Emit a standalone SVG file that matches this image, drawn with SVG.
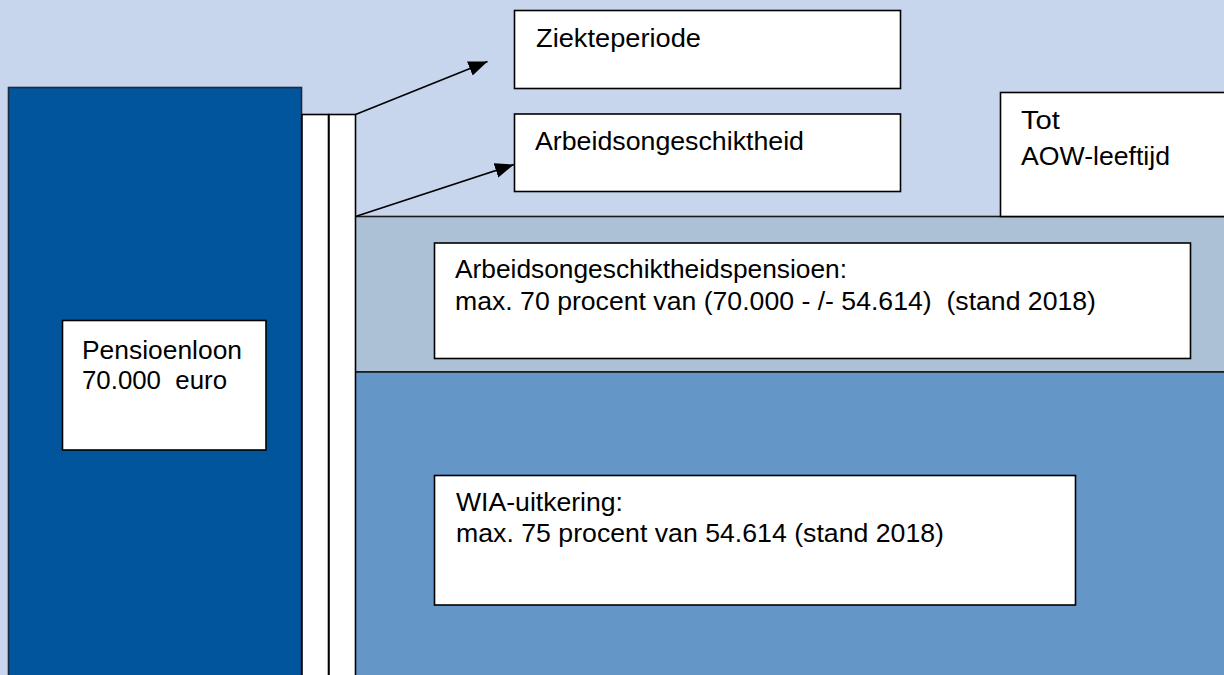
<svg xmlns="http://www.w3.org/2000/svg" width="1224" height="675" viewBox="0 0 1224 675">
<style>
.box{fill:#FFFFFF;stroke:#000000;stroke-width:1.6}
.t{font-family:"Liberation Sans",Arial,sans-serif;font-size:25.5px;fill:#000000;white-space:pre}
.conn{stroke:#000000;stroke-width:1.6;fill:none}
</style>
<defs>
<marker id="arr" markerUnits="userSpaceOnUse" markerWidth="20" markerHeight="16" refX="19" refY="7.5" orient="auto">
<path d="M0,0 L19,7.5 L0,15 Z" fill="#000000"/>
</marker>
</defs>
<rect x="0" y="0" width="1224" height="675" fill="#C7D5ED"/>
<g id="band-light">
<rect x="355" y="216.5" width="870" height="155.5" fill="#ADC1D6" stroke="#1A1A1A" stroke-width="1.6"/>
</g>
<g id="band-medium">
<rect x="355" y="372" width="870" height="304" fill="#6496C7" stroke="#1A1A1A" stroke-width="1.6"/>
</g>
<g id="pensioenloon-bar">
<rect x="8.5" y="87.5" width="293" height="590" fill="#00559C" stroke="#1C2B45" stroke-width="1.6"/>
</g>
<g id="white-bars">
<rect x="302" y="114.5" width="26.5" height="562" fill="#FFFFFF" stroke="#000000" stroke-width="1.6"/>
<rect x="329" y="114.5" width="26.5" height="562" fill="#FFFFFF" stroke="#000000" stroke-width="1.6"/>
</g>
<g id="connectors">
<line class="conn" x1="355.5" y1="114.5" x2="487.5" y2="61.5" marker-end="url(#arr)"/>
<line class="conn" x1="355.5" y1="216.5" x2="514" y2="164.5" marker-end="url(#arr)"/>
</g>
<g id="ziekteperiode">
<rect class="box" x="514.5" y="10.5" width="386" height="78"/>
<text class="t" x="536" y="47" textLength="165" lengthAdjust="spacingAndGlyphs">Ziekteperiode</text>
</g>
<g id="arbeidsongeschiktheid">
<rect class="box" x="514.5" y="114" width="386" height="77.5"/>
<text class="t" x="535" y="150" textLength="269" lengthAdjust="spacingAndGlyphs">Arbeidsongeschiktheid</text>
</g>
<g id="tot-aow">
<rect class="box" x="1000.5" y="92.5" width="230" height="124"/>
<text class="t" x="1021" y="129" textLength="39" lengthAdjust="spacingAndGlyphs">Tot</text>
<text class="t" x="1021" y="164.5" textLength="149" lengthAdjust="spacingAndGlyphs">AOW-leeftijd</text>
</g>
<g id="pensioenloon">
<rect class="box" x="62.5" y="320.5" width="203.5" height="129.5"/>
<text class="t" x="82" y="358.5" textLength="160" lengthAdjust="spacingAndGlyphs">Pensioenloon</text>
<text class="t" x="82" y="389" textLength="145" lengthAdjust="spacingAndGlyphs" xml:space="preserve">70.000  euro</text>
</g>
<g id="ao-pensioen">
<rect class="box" x="434.5" y="243" width="756" height="115.5"/>
<text class="t" x="455" y="277.5" textLength="392" lengthAdjust="spacingAndGlyphs">Arbeidsongeschiktheidspensioen:</text>
<text class="t" x="455" y="309.5" textLength="641" lengthAdjust="spacingAndGlyphs" xml:space="preserve">max. 70 procent van (70.000 - /- 54.614)  (stand 2018)</text>
</g>
<g id="wia">
<rect class="box" x="434.5" y="475.5" width="641" height="129.5"/>
<text class="t" x="456" y="511" textLength="167" lengthAdjust="spacingAndGlyphs">WIA-uitkering:</text>
<text class="t" x="456" y="542" textLength="488" lengthAdjust="spacingAndGlyphs">max. 75 procent van 54.614 (stand 2018)</text>
</g>
</svg>
